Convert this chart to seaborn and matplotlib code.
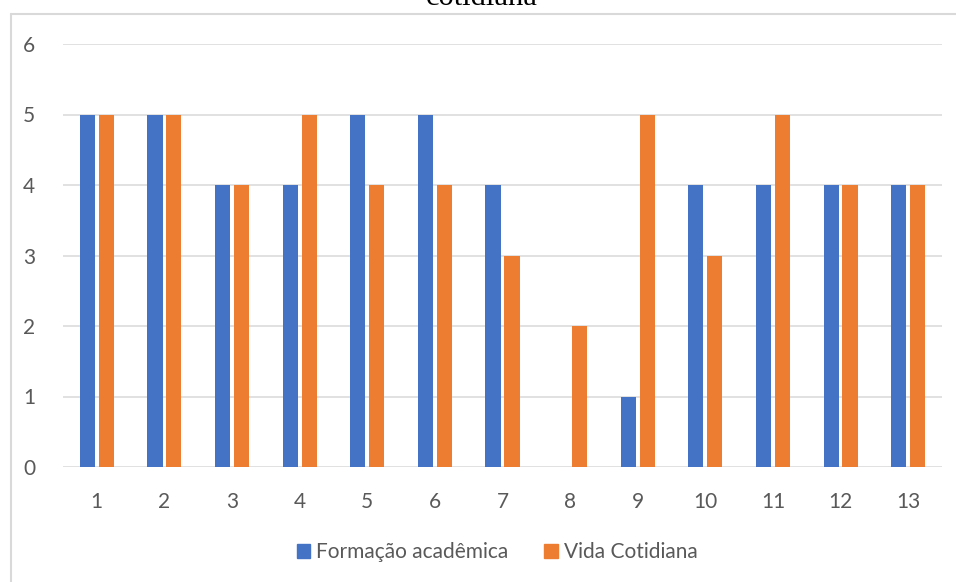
import matplotlib
matplotlib.use("Agg")
import matplotlib.pyplot as plt
import seaborn as sns
import pandas as pd
from matplotlib.lines import Line2D

# chart data
items = [str(i) for i in range(1, 14)]
formacao = [5, 5, 4, 4, 5, 5, 4, 0, 1, 4, 4, 4, 4]
vida = [5, 5, 4, 5, 4, 4, 3, 2, 5, 3, 5, 4, 4]
series_names = ["Formação acadêmica", "Vida Cotidiana"]
colors = ["#4472C4", "#ED7D31"]
yticks = [0, 1, 2, 3, 4, 5, 6]

df = pd.DataFrame({
    "item": items * 2,
    "valor": formacao + vida,
    "serie": [series_names[0]] * len(items) + [series_names[1]] * len(items),
})

sns.set_theme(style="white")
plt.rcParams["font.family"] = ["Lato", "DejaVu Sans"]

W, H = 956, 582
fig = plt.figure(figsize=(W / 100, H / 100), dpi=100)
ax = fig.add_axes([63 / W, 1 - 467 / H, (942 - 63) / W, (467 - 44) / H])

sns.barplot(data=df, x="item", y="valor", hue="serie", order=items,
            hue_order=series_names, palette=colors, width=0.56, gap=0.2,
            saturation=1, ax=ax, legend=False, errorbar=None, linewidth=0)

ax.set_ylim(0, 6)
ax.set_xlim(-0.5, len(items) - 0.5)
ax.set_yticks(yticks)
ax.set_yticklabels([str(v) for v in yticks])
for v in yticks:
    ax.axhline(v, color="#d9d9d9", lw=1.1, zorder=0)
ax.set_axisbelow(True)
for s in ax.spines.values():
    s.set_visible(False)
ax.tick_params(axis="both", length=0, labelsize=15, labelcolor="#595959")
ax.tick_params(axis="y", pad=20)
ax.tick_params(axis="x", pad=18)
ax.set_xlabel("")
ax.set_ylabel("")

# chart frame (left and top edges visible)
fig.add_artist(Line2D([11 / W, 11 / W], [-0.01, 1 - 14 / H], transform=fig.transFigure,
                      color="#d9d9d9", lw=1.5))
fig.add_artist(Line2D([11 / W, 1.01], [1 - 14 / H, 1 - 14 / H], transform=fig.transFigure,
                      color="#d9d9d9", lw=1.5))

# title, cut off at the top as in the source
fig.text(482 / W, 1 - 5 / H, "cotidiana", family="Liberation Serif", fontsize=22,
         ha="center", va="baseline", color="black")

handles = [plt.Rectangle((0, 0), 1, 1, color=c) for c in colors]
fig.legend(handles, series_names, loc="center", bbox_to_anchor=(497 / W, 1 - 552 / H),
           ncol=2, frameon=False, fontsize=15, labelcolor="#595959",
           handlelength=0.65, handleheight=0.65, handletextpad=0.3, columnspacing=1.7)

fig.savefig("out.png", dpi=100)
